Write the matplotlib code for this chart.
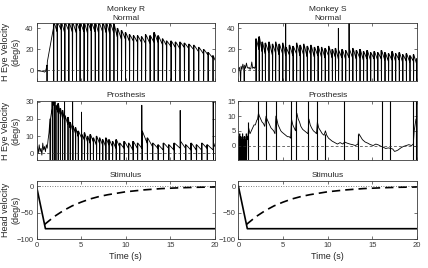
import matplotlib
matplotlib.use('Agg')
import matplotlib.pyplot as plt

plt.rcParams['font.family'] = ['Liberation Sans', 'DejaVu Sans']

# ---- Monkey R, normal: sawtooth beats (quick phase times, slow-phase start/end, spike top)
rn_pre_t = [0, 0.2, 0.4, 0.6, 0.8, 0.9, 1.0, 1.1]
rn_pre_v = [-0.5, -0.4, -0.6, -0.8, -1.2, -1.6, -1.0, 2.0]
rn_beat_t = [1.15, 1.9, 2.3, 2.75, 3.15, 3.6, 4.0, 4.45, 4.85, 5.3, 5.7, 6.1, 6.55, 6.95,
             7.4, 7.8, 8.2, 8.65, 9.05, 9.5, 9.95, 10.4, 10.85, 11.3, 11.75, 12.2, 12.7,
             13.15, 13.6, 14.1, 14.55, 15.05, 15.55, 16.05, 16.55, 17.05, 17.6, 18.15,
             18.7, 19.2, 19.75]
rn_start = [8, 46, 46, 46, 46, 46, 46, 46, 46, 46, 46, 46, 46, 46, 46, 46, 46, 44, 40, 38,
            36, 34, 33, 33, 32, 34, 33, 36, 33, 30, 28, 28, 27, 27, 26, 25, 24, 22, 20, 17, 14]
rn_end = [40, 37, 39, 36, 38, 37, 36, 38, 37, 36, 38, 37, 36, 37, 36, 35, 36, 32, 30, 30,
          28, 28, 27, 27, 26, 26, 27, 27, 25, 24, 23, 22, 21, 22, 21, 20, 18, 16, 15, 12, 10]
rn_up = [5, 50, 50, 50, 50, 50, 50, 50, 50, 50, 50, 50, 50, 50, 50, 50, 50, 50, 40, 38,
         36, 34, 33, 33, 32, 34, 33, 36, 33, 30, 28, 28, 27, 27, 26, 25, 24, 22, 20, 17, 14]

# ---- Monkey S, normal
sn_pre_t = [0, 0.1, 0.2, 0.25, 0.3, 0.4, 0.5, 0.6, 0.65, 0.7, 0.8, 0.9, 1.0, 1.1, 1.2,
            1.3, 1.4, 1.5, 1.6, 1.7, 1.8, 1.9]
sn_pre_v = [1, 3, -2, -12, 4, 1, 6, 2, -12, 5, 2, 7, 3, 2, 3, 1, 2, 8, 2, 3, 2, 4]
sn_beat_t = [1.95, 2.3, 2.65, 3.0, 3.4, 3.8, 4.15, 4.55, 4.95, 5.3, 5.7, 6.1, 6.5, 6.9,
             7.3, 7.7, 8.1, 8.5, 8.9, 9.3, 9.7, 10.1, 10.5, 10.85, 11.2, 11.6, 12.0, 12.4,
             12.8, 13.2, 13.6, 14.0, 14.4, 14.8, 15.2, 15.6, 16.0, 16.4, 16.8, 17.2, 17.6,
             18.0, 18.4, 18.8, 19.2, 19.6, 19.95]
sn_start = [30, 32, 27, 26, 27, 25, 27, 25, 26, 22, 24, 23, 26, 24, 25, 23, 24, 22, 23, 22,
            21, 23, 20, 21, 19, 20, 19, 20, 21, 19, 20, 18, 19, 17, 18, 17, 19, 17, 16, 18,
            16, 17, 15, 16, 14, 15, 11]
sn_end = [20, 18, 16, 17, 15, 17, 15, 16, 14, 15, 14, 16, 14, 15, 13, 15, 13, 14, 13, 12,
          14, 12, 13, 11, 12, 11, 12, 12, 11, 12, 10, 11, 10, 11, 10, 11, 10, 9, 10, 9,
          10, 8, 9, 8, 9, 7, 9]
sn_up = [30, 32, 27, 26, 27, 25, 27, 25, 26, 50, 24, 23, 26, 24, 25, 23, 24, 22, 23, 22,
         21, 23, 20, 21, 40, 20, 19, 50, 21, 19, 20, 18, 19, 17, 18, 17, 19, 17, 16, 18,
         16, 17, 15, 16, 14, 15, 11]

# ---- Monkey R, prosthesis
rp_pre_t = [0, 0.1, 0.2, 0.3, 0.4, 0.5, 0.6, 0.7, 0.8, 0.9, 1.0, 1.1, 1.2, 1.3, 1.4]
rp_pre_v = [2, 4, 0, 5, 1, 3, -1, 6, 2, 4, 1, 5, 3, 8, 12]
rp_beat_t = [1.5, 1.75, 1.95, 2.15, 2.4, 2.65, 2.9, 3.15, 3.5, 3.75, 4.05, 4.35, 4.65, 5.05,
             5.35, 5.7, 6.0, 6.35, 6.7, 7.05, 7.4, 7.75, 8.1, 8.5, 8.9, 9.3, 9.8, 10.3,
             10.8, 11.3, 11.8, 12.4, 13.0, 13.6, 14.2, 14.8, 15.4, 16.1, 16.7, 17.3, 17.9,
             18.5, 19.1, 19.8]
rp_start = [20, 33, 33, 28, 29, 26, 25, 22, 21, 18, 16, 15, 13, 11, 12, 10, 11, 9, 10, 9,
            8, 9, 8, 7, 8, 6, 7, 6, 7, 6, 13, 9, 6, 5, 6, 5, 6, 7, 5, 6, 5, 6, 5, 6]
rp_end = [26, 28, 29, 24, 23, 21, 19, 17, 15, 13, 12, 10, 9, 8, 7, 6, 7, 5, 6, 5,
          4, 5, 4, 3, 4, 3, 3, 2, 3, 3, 6, 4, 3, 2, 3, 2, 3, 3, 2, 2, 2, 3, 2, 4]
rp_up = [20, 33, 33, 28, 29, 26, 25, 32, 21, 18, 33, 15, 13, 24, 12, 10, 11, 9, 10, 9,
         8, 9, 8, 7, 8, 6, 7, 6, 7, 6, 28, 9, 6, 5, 6, 5, 6, 25, 5, 6, 5, 6, 5, 30]

# ---- Monkey S, prosthesis: trace vertices plus quick-phase spikes
sp_pre_t = [0, 0.04, 0.08, 0.12, 0.16, 0.2, 0.24, 0.28, 0.32, 0.36, 0.4, 0.44, 0.48,
            0.52, 0.56, 0.6, 0.64, 0.68, 0.72, 0.76, 0.8, 0.84, 0.88, 0.92, 0.96, 1.0]
sp_pre_v = [3, -5, 2, -6, 4, -5, 3, -4, 2, -6, 3, -5, 4, -6, 2, -5, 3, -6, 3, -4, 2, -6,
            4, -5, 3, 2]
sp_trace = [(1.1, 4), (1.15, 6), (1.3, 4), (1.45, 5), (1.6, 6), (1.75, 7), (1.9, 7),
            (2.05, 8.5), (2.15, 9), (2.25, 11), (2.35, 10), (2.5, 9), (2.65, 8), (2.8, 7.5),
            (2.95, 6.5), (3.1, 10), (3.2, 9), (3.35, 8), (3.5, 7), (3.65, 6), (3.8, 5.5),
            (3.95, 5), (4.1, 4), (4.2, 10), (4.3, 9), (4.45, 7), (4.6, 6), (4.75, 5),
            (4.9, 4.5), (5.1, 4), (5.3, 3.5), (5.5, 3), (5.7, 3), (5.85, 2.5), (5.95, 9),
            (6.1, 7), (6.25, 6), (6.4, 5), (6.55, 11), (6.7, 9), (6.85, 8), (7.0, 6.5),
            (7.2, 5.5), (7.4, 5), (7.6, 4.5), (7.8, 4), (7.9, 9), (8.05, 7), (8.2, 6),
            (8.4, 5), (8.6, 4.5), (8.75, 4), (8.85, 8), (9.0, 6), (9.2, 5), (9.4, 4),
            (9.6, 3.5), (9.75, 5), (9.9, 3.5), (10.1, 2.5), (10.3, 2), (10.5, 1.5),
            (10.8, 1), (11.1, 0.5), (11.4, 1), (11.7, 0.5), (11.9, 1.2), (12.2, 0.8),
            (12.5, 0.5), (12.8, 0.3), (13.1, 0), (13.4, 0.5), (13.5, 4), (13.7, 3),
            (13.9, 2), (14.2, 1.2), (14.5, 0.8), (14.8, 0.3), (15.1, 0), (15.4, 0.5),
            (15.7, 0.2), (16.0, -0.3), (16.2, -0.5), (16.5, -1), (16.8, -0.8), (17.1, -1),
            (17.3, -1.2), (17.5, -2), (17.7, -1.8), (17.9, -1.5), (18.2, -0.8), (18.5, -0.3),
            (18.8, 0), (19.1, 0.3), (19.4, 0), (19.6, 0.5), (19.7, 5), (19.8, 7), (19.9, 9),
            (20.0, 7)]
sp_spk_t = [1.1, 2.2, 3.05, 4.25, 5.9, 6.5, 7.85, 8.8, 9.7, 11.85, 13.45, 16.05, 17.0,
            19.6, 19.95]
sp_spk_hi = [8, 16, 16, 16, 16, 16, 16, 16, 4, 16, 4, 16, 16, 16, 16]

# ---- Stimulus (head velocity) and its decaying response (dashed)
stim_t = [0, 1, 20]
stim_v = [0, -80, -80]
resp_t = [0.9, 2, 3, 4, 5, 6, 7, 8, 10, 12, 14, 16, 18, 20]
resp_v = [-72, -57, -46, -37, -30, -24, -19.5, -16, -10.5, -7, -4.5, -3, -2, -1.5]


def sawtooth(pre_t, pre_v, beat_t, start, end, up, down):
    t = list(pre_t)
    v = list(pre_v)
    nxt = list(beat_t[1:]) + [20.0]
    for i, tb in enumerate(beat_t):
        t += [tb, tb + 0.03, tb + 0.06, nxt[i] - 0.01]
        v += [up[i], down, start[i], end[i]]
    return t, v


def style(ax, ylim, yticks, xlabels):
    ax.set_xlim(0, 20)
    ax.set_ylim(*ylim)
    ax.set_xticks([0, 5, 10, 15, 20])
    ax.set_yticks(yticks)
    if not xlabels:
        ax.set_xticklabels([])
    ax.tick_params(direction='in', length=2, width=0.5, top=True, right=True,
                   labelsize=5.5, colors='#3a3a3a', pad=2)
    for s in ax.spines.values():
        s.set_linewidth(0.6)
        s.set_color('#3a3a3a')


fig = plt.figure(figsize=(4.28, 2.68), dpi=100)
lx, rx, w = 0.0853, 0.557, 0.417
rows = [(0.698, 0.216), (0.402, 0.222), (0.107, 0.218)]

ax1 = fig.add_axes([lx, rows[0][0], w, rows[0][1]])
ax2 = fig.add_axes([rx, rows[0][0], w, rows[0][1]])
ax3 = fig.add_axes([lx, rows[1][0], w, rows[1][1]])
ax4 = fig.add_axes([rx, rows[1][0], w, rows[1][1]])
ax5 = fig.add_axes([lx, rows[2][0], w, rows[2][1]])
ax6 = fig.add_axes([rx, rows[2][0], w, rows[2][1]])

lw = 0.6
t, v = sawtooth(rn_pre_t, rn_pre_v, rn_beat_t, rn_start, rn_end, rn_up, -20)
ax1.plot(t, v, color='k', lw=lw)
t, v = sawtooth(sn_pre_t, sn_pre_v, sn_beat_t, sn_start, sn_end, sn_up, -20)
ax2.plot(t, v, color='k', lw=lw)
t, v = sawtooth(rp_pre_t, rp_pre_v, rp_beat_t, rp_start, rp_end, rp_up, -10)
ax3.plot(t, v, color='k', lw=lw)
ax4.plot(sp_pre_t + [p[0] for p in sp_trace], sp_pre_v + [p[1] for p in sp_trace],
         color='k', lw=lw)
ax4.vlines(sp_spk_t, -8, sp_spk_hi, color='k', lw=0.8)

for ax in (ax1, ax2, ax3, ax4):
    ax.axhline(0, color='#333333', lw=0.5, ls=(0, (4, 3)))

for ax in (ax5, ax6):
    ax.axhline(0, color='#555555', lw=0.6, ls=(0, (1, 2)))
    ax.plot(stim_t, stim_v, color='k', lw=1.2)
    ax.plot(resp_t, resp_v, color='k', lw=1.2, ls=(0, (5, 3)))

style(ax1, (-10, 45), [0, 20, 40], False)
style(ax2, (-10, 45), [0, 20, 40], False)
style(ax3, (-4, 30.6), [0, 10, 20, 30], False)
style(ax4, (-5, 15.2), [0, 5, 10, 15], False)
style(ax5, (-100, 10), [-100, -50, 0], True)
style(ax6, (-100, 10), [-100, -50, 0], True)

tkw = dict(fontsize=6, color='#262626', pad=2.5, linespacing=1.3)
ax1.set_title('Monkey R\nNormal', **tkw)
ax2.set_title('Monkey S\nNormal', **tkw)
ax3.set_title('Prosthesis', **tkw)
ax4.set_title('Prosthesis', **tkw)
ax5.set_title('Stimulus', **tkw)
ax6.set_title('Stimulus', **tkw)

lkw = dict(fontsize=6.5, color='#262626', linespacing=1.2)
ax1.set_ylabel('H Eye Velocity\n(deg/s)', **lkw)
ax3.set_ylabel('H Eye Velocity\n(deg/s)', **lkw)
ax5.set_ylabel('Head velocity\n(deg/s)', **lkw)
for ax in (ax1, ax3, ax5):
    ax.yaxis.set_label_coords(-0.092, 0.5)
ax5.set_xlabel('Time (s)', labelpad=2, **lkw)
ax6.set_xlabel('Time (s)', labelpad=2, **lkw)

fig.savefig('out.png', dpi=100)
